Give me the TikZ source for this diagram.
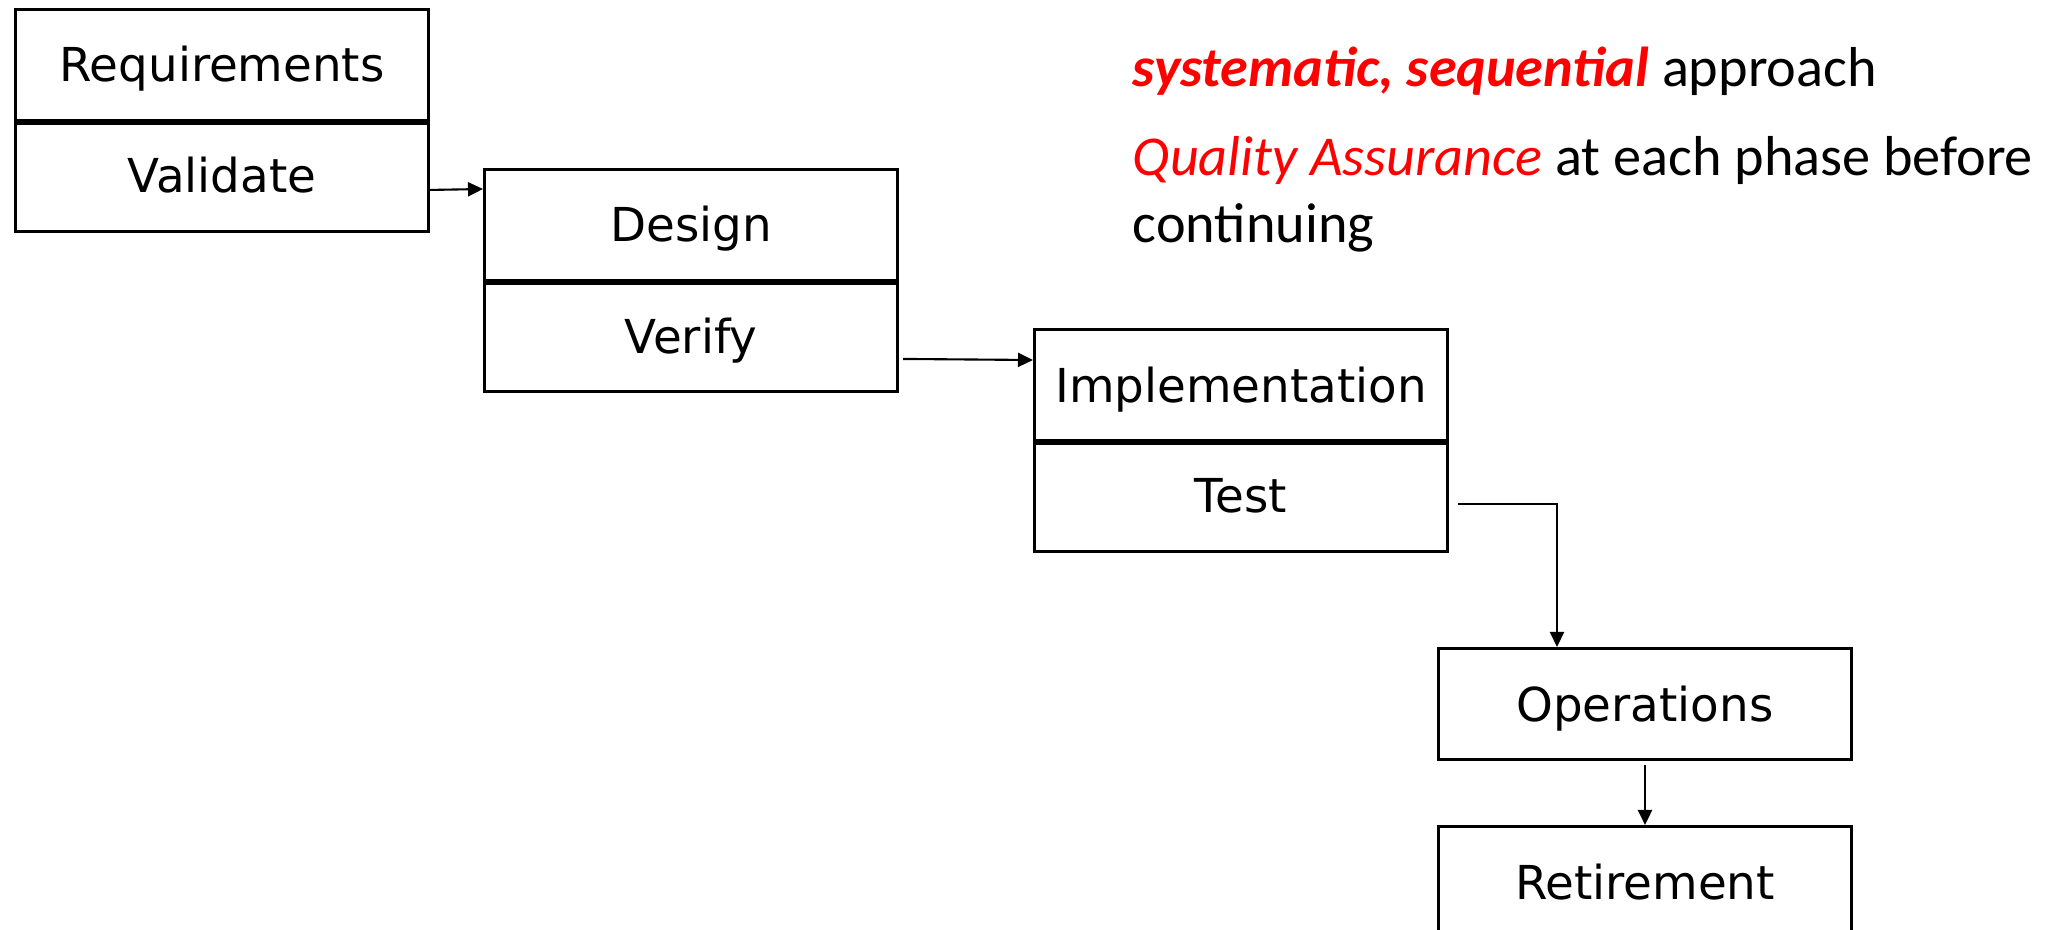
\documentclass[tikz,border=0pt]{standalone}
\usepackage{fontspec}
\setmainfont{DejaVu Sans}
\newfontfamily\notefont{Carlito}
\usetikzlibrary{arrows.meta, calc}
\definecolor{qared}{RGB}{255,0,0}

\tikzset{
  phase/.style = {draw, line width=0.8pt, minimum width=4.13cm, minimum height=1.11cm,
    inner sep=0pt, anchor=north west, text height=9.7pt, text depth=0pt,
    font=\fontsize{13.3}{16}\selectfont},
  divider/.style = {line width=1.7pt},
  flow/.style = {line width=0.6pt, -{Triangle[length=1.5mm, width=1.4mm]}},
  note/.style = {inner sep=0pt, align=left, font=\notefont\fontsize{16}{19}\selectfont},
}

\begin{document}
\begin{tikzpicture}[x=0.01cm, y=-0.01cm]
\useasboundingbox (0,0) rectangle (2059,930);
\clip (0,0) rectangle (2059,930);

% phases
\node[phase] (req) at (14, 8) {Requirements};
\node[phase] (val) at (14, 119) {Validate};
\node[phase] (des) at (483, 168) {Design};
\node[phase] (ver) at (483, 279) {Verify};
\node[phase] (imp) at (1033, 328) {Implementation};
\node[phase] (tst) at (1033, 439) {Test};
\node[phase] (ops) at (1437, 647) {Operations};
\node[phase] (ret) at (1437, 825) {Retirement};

\draw[divider] (req.south west) -- (req.south east);
\draw[divider] (des.south west) -- (des.south east);
\draw[divider] (imp.south west) -- (imp.south east);

% flow
\draw[flow] ($(val.east)+(0,14)$) -- ($(des.north west)+(0,21)$);
\draw[flow] ($(ver.east)+(4,23)$) -- ($(imp.north west)+(0,32)$);
\draw[flow] ($(tst.east)+(9,8)$) -| ($(ops.north west)+(120,0)$);
\draw[flow, shorten <=1.2pt] (ops.south) -- (ret.north);

% notes
\node[note, anchor=base west] (aim) at (1132, 86)
  {\textcolor{qared}{\textbf{\textit{systematic, sequential}}} approach};
\node[note, anchor=north west] (qa) at (1132, 136)
  {\textcolor{qared}{\textit{Quality Assurance}} at each phase before\\continuing};
\end{tikzpicture}
\end{document}
